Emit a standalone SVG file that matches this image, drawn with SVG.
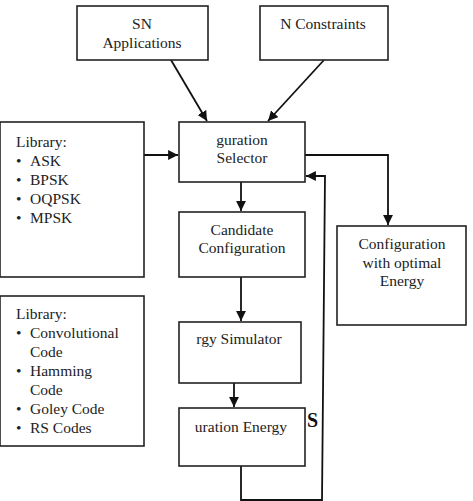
<svg xmlns="http://www.w3.org/2000/svg" width="473" height="501" viewBox="0 0 473 501">
<style>
.box{fill:#fff;stroke:#222;stroke-width:1.6}
text{font-family:"Liberation Serif","Times New Roman",serif;font-size:15.5px;fill:#222}
.c{text-anchor:middle}
.ln{fill:none;stroke:#111;stroke-width:1.8}
</style>
<defs>
<marker id="ah" viewBox="0 0 10 10" refX="10" refY="5" markerWidth="5.5" markerHeight="5.5" orient="auto" markerUnits="strokeWidth">
<path d="M0,0 L10,5 L0,10 z" fill="#111"/>
</marker>
</defs>
<rect width="473" height="501" fill="#fff"/>
<g id="connectors">
<line class="ln" x1="171" y1="60" x2="207" y2="121" marker-end="url(#ah)"/>
<line class="ln" x1="324" y1="60" x2="268" y2="121" marker-end="url(#ah)"/>
<line class="ln" x1="144" y1="155" x2="178" y2="155" marker-end="url(#ah)"/>
<polyline class="ln" points="305,155 388,155 388,225" marker-end="url(#ah)"/>
<line class="ln" x1="241" y1="182" x2="241" y2="211" marker-end="url(#ah)"/>
<line class="ln" x1="241" y1="277" x2="241" y2="321" marker-end="url(#ah)"/>
<line class="ln" x1="234" y1="383" x2="234" y2="407" marker-end="url(#ah)"/>
<polyline class="ln" points="241,466 241,500 322,500 325,176 306,176" marker-end="url(#ah)"/>
</g>
<g id="sn-applications">
<rect class="box" x="77" y="6" width="131" height="54"/>
<text class="c" x="142" y="29">SN</text>
<text class="c" x="142" y="48">Applications</text>
</g>
<g id="n-constraints">
<rect class="box" x="260" y="6" width="128" height="54"/>
<text class="c" x="323" y="29">N Constraints</text>
</g>
<g id="library-modulation">
<rect class="box" x="0" y="122" width="144" height="155"/>
<text x="16" y="147">Library:</text>
<text x="16" y="166">•</text><text x="30" y="166">ASK</text>
<text x="16" y="185">•</text><text x="30" y="185">BPSK</text>
<text x="16" y="204">•</text><text x="30" y="204">OQPSK</text>
<text x="16" y="223">•</text><text x="30" y="223">MPSK</text>
</g>
<g id="selector">
<rect class="box" x="179" y="122" width="126" height="60"/>
<text class="c" x="242" y="145">guration</text>
<text class="c" x="242" y="163">Selector</text>
</g>
<g id="candidate">
<rect class="box" x="179" y="212" width="126" height="65"/>
<text class="c" x="242" y="235">Candidate</text>
<text class="c" x="242" y="253">Configuration</text>
</g>
<g id="optimal">
<rect class="box" x="337" y="226" width="129" height="99"/>
<text class="c" x="402" y="249">Configuration</text>
<text class="c" x="402" y="268">with optimal</text>
<text class="c" x="402" y="286">Energy</text>
</g>
<g id="library-codes">
<rect class="box" x="0" y="296" width="144" height="150"/>
<text x="16" y="319">Library:</text>
<text x="16" y="338">•</text><text x="30" y="338">Convolutional</text>
<text x="30" y="357">Code</text>
<text x="16" y="376">•</text><text x="30" y="376">Hamming</text>
<text x="30" y="395">Code</text>
<text x="16" y="414">•</text><text x="30" y="414">Goley Code</text>
<text x="16" y="433">•</text><text x="30" y="433">RS Codes</text>
</g>
<g id="simulator">
<rect class="box" x="179" y="322" width="122" height="61"/>
<text class="c" x="239" y="344">rgy Simulator</text>
</g>
<g id="config-energy">
<rect class="box" x="179" y="408" width="126" height="58"/>
<text class="c" x="241" y="432">uration Energy</text>
</g>
<text x="307" y="427" style="font-size:20px;font-weight:bold;fill:#111">S</text>
</svg>
